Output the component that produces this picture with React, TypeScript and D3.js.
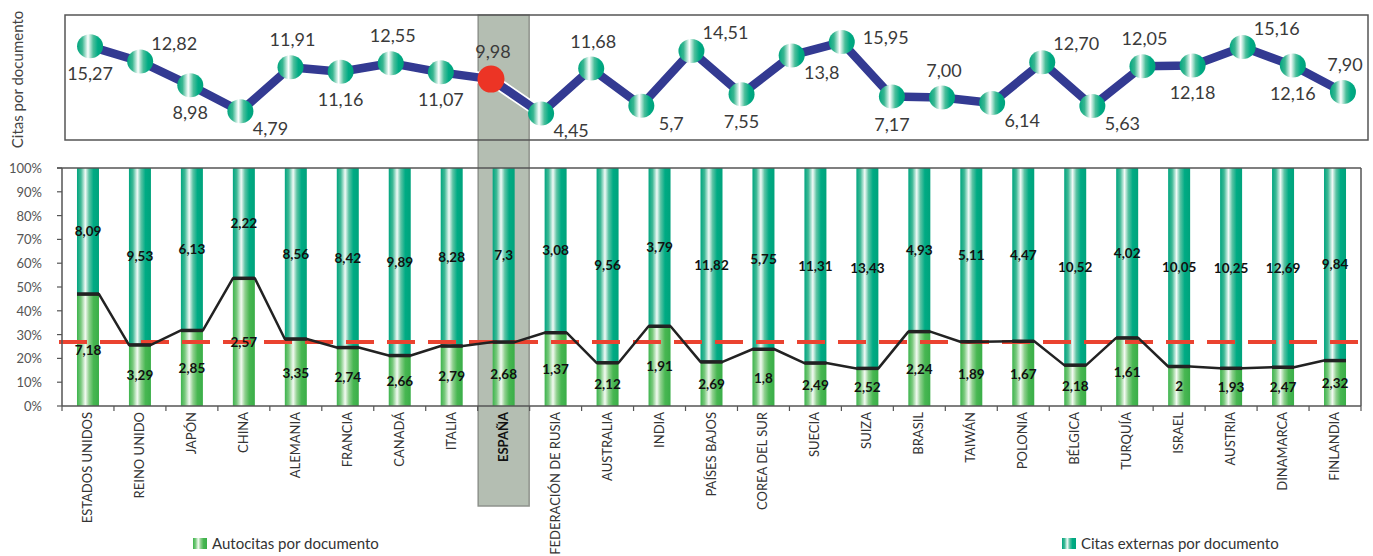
import React from "react";
import * as d3 from "d3";

// ---------- DATA ----------
const countries = [
  "ESTADOS UNIDOS", "REINO UNIDO", "JAPÓN", "CHINA", "ALEMANIA", "FRANCIA", "CANADÁ", "ITALIA",
  "ESPAÑA", "FEDERACIÓN DE RUSIA", "AUSTRALIA", "INDIA", "PAÍSES BAJOS", "COREA DEL SUR", "SUECIA",
  "SUIZA", "BRASIL", "TAIWÁN", "POLONIA", "BÉLGICA", "TURQUÍA", "ISRAEL", "AUSTRIA", "DINAMARCA", "FINLANDIA",
];
const autocitas = [
  "7,18", "3,29", "2,85", "2,57", "3,35", "2,74", "2,66", "2,79", "2,68", "1,37", "2,12", "1,91", "2,69",
  "1,8", "2,49", "2,52", "2,24", "1,89", "1,67", "2,18", "1,61", "2", "1,93", "2,47", "2,32",
];
const citasExternas = [
  "8,09", "9,53", "6,13", "2,22", "8,56", "8,42", "9,89", "8,28", "7,3", "3,08", "9,56", "3,79", "11,82",
  "5,75", "11,31", "13,43", "4,93", "5,11", "4,47", "10,52", "4,02", "10,05", "10,25", "12,69", "9,84",
];
const citasPorDocumento = [
  "15,27", "12,82", "8,98", "4,79", "11,91", "11,16", "12,55", "11,07", "9,98", "4,45", "11,68", "5,7",
  "14,51", "7,55", "13,8", "15,95", "7,17", "7,00", "6,14", "12,70", "5,63", "12,05", "12,18", "15,16",
  "12,16", "7,90",
];
// label placement (compass side of the point)
const labelSide = [
  "S", "NE", "S", "SE", "N", "S", "N", "S", "N", "SE", "N", "SE", "NE", "S", "SE", "E", "S", "N", "SE",
  "NE", "SE", "N", "S", "NE", "S", "N",
];
const highlighted = "ESPAÑA";
const yTicks = [0, 0.1, 0.2, 0.3, 0.4, 0.5, 0.6, 0.7, 0.8, 0.9, 1];
const legendLabels = ["Autocitas por documento", "Citas externas por documento"];
const topAxisTitle = "Citas por documento";

const num = (s: string) => parseFloat(s.replace(",", "."));

const FONT = "Lato, 'Open Sans', sans-serif";

export default function App() {
  const W = 1373, H = 556;
  // top panel
  const top = { x0: 65, x1: 1368, y0: 15, y1: 140 };
  const xTop = d3.scaleBand<number>().domain(d3.range(citasPorDocumento.length)).range([top.x0, top.x1]);
  const yTop = d3.scaleLinear().domain([0, 20]).range([141, 17]);
  const topVals = citasPorDocumento.map(num);
  const topPts = topVals.map((v, i) => [xTop(i)! + xTop.bandwidth() / 2, yTop(v)] as [number, number]);
  const lineGen = d3.line();

  // bottom panel
  const bot = { x0: 62, x1: 1361, y0: 168, y1: 406 };
  const xBot = d3.scaleBand<string>().domain(countries).range([bot.x0, bot.x1]);
  const yBot = d3.scaleLinear().domain([0, 1]).range([bot.y1, bot.y0]);
  const barW = 22;
  const rows = countries.map((c, i) => {
    const a = num(autocitas[i]);
    const e = num(citasExternas[i]);
    const share = a / (a + e);
    const cx = xBot(c)! + xBot.bandwidth() / 2;
    return { c, a, e, share, cx, aLabel: autocitas[i], eLabel: citasExternas[i] };
  });
  const spain = rows.find((r) => r.c === highlighted)!;
  const spainX0 = xBot(highlighted)!;

  // share line path (horizontal at each bar top + connectors)
  const sharePts: [number, number][] = [];
  rows.forEach((r) => {
    sharePts.push([r.cx - barW / 2, yBot(r.share)]);
    sharePts.push([r.cx + barW / 2, yBot(r.share)]);
  });

  const offs: Record<string, [number, number]> = {
    N: [2, -28], S: [0, 27], NE: [34, -19], SE: [30, 17], E: [44, -5],
  };

  return (
    <svg width={W} height={H} style={{ display: "block", position: "absolute", left: 0, top: 0 }}>
      <defs>
        <linearGradient id="gTeal" x1="0" x2="1" y1="0" y2="0">
          <stop offset="0" stopColor="#00a57f" />
          <stop offset="0.18" stopColor="#3fb996" />
          <stop offset="0.38" stopColor="#f2faf7" />
          <stop offset="0.55" stopColor="#5cc3a4" />
          <stop offset="0.75" stopColor="#00ab84" />
          <stop offset="1" stopColor="#00a37c" />
        </linearGradient>
        <linearGradient id="gGreen" x1="0" x2="1" y1="0" y2="0">
          <stop offset="0" stopColor="#3cb44c" />
          <stop offset="0.18" stopColor="#79c97d" />
          <stop offset="0.38" stopColor="#f3faf2" />
          <stop offset="0.55" stopColor="#8fd08e" />
          <stop offset="0.75" stopColor="#48b752" />
          <stop offset="1" stopColor="#3aae48" />
        </linearGradient>
        <linearGradient id="gMarker" x1="0" x2="1" y1="0" y2="0">
          <stop offset="0" stopColor="#00a57f" />
          <stop offset="0.2" stopColor="#39b791" />
          <stop offset="0.42" stopColor="#ffffff" />
          <stop offset="0.62" stopColor="#4cbf9b" />
          <stop offset="0.8" stopColor="#00ab84" />
          <stop offset="1" stopColor="#00a27b" />
        </linearGradient>
      </defs>
      <rect x={0} y={0} width={W} height={H} fill="#ffffff" />

      {/* highlighted column */}
      <rect x={spainX0 + 0.5} y={15} width={xBot.bandwidth() - 1} height={506 - 15}
        fill="#b4beb2" stroke="#8e928c" strokeWidth={1.5} />

      {/* ---------- TOP PANEL ---------- */}
      <rect x={top.x0} y={top.y0} width={top.x1 - top.x0} height={top.y1 - top.y0}
        fill="none" stroke="#555" strokeWidth={1.5} />
      <text transform={`translate(23,${(top.y0 + top.y1) / 2 + 2}) rotate(-90)`} textAnchor="middle"
        fontFamily={FONT} fontSize={15} fill="#444">{topAxisTitle}</text>
      <path d={lineGen(topPts)!} fill="none" stroke="#ffffff" strokeWidth={12} strokeLinejoin="round" />
      <path d={lineGen(topPts)!} fill="none" stroke="#333a92" strokeWidth={8.5} strokeLinejoin="round" />
      {topPts.map(([x, y], i) =>
        i === 8 ? (
          <circle key={i} cx={x} cy={y} r={13.5} fill="#ec3425" />
        ) : (
          <ellipse key={i} cx={x} cy={y} rx={13} ry={12} fill="url(#gMarker)" />
        )
      )}
      {topPts.map(([x, y], i) => {
        const [dx, dy] = offs[labelSide[i]];
        return (
          <text key={i} x={x + dx} y={y + dy} textAnchor="middle" dominantBaseline="central"
            fontFamily={FONT} fontSize={18} fill="#3a3a3a">{citasPorDocumento[i]}</text>
        );
      })}

      {/* ---------- BOTTOM PANEL ---------- */}
      {rows.map((r) => (
        <g key={r.c}>
          <rect x={r.cx - barW / 2} y={yBot(1)} width={barW} height={yBot(r.share) - yBot(1)} fill="url(#gTeal)" />
          <rect x={r.cx - barW / 2} y={yBot(r.share)} width={barW} height={yBot(0) - yBot(r.share)} fill="url(#gGreen)" />
        </g>
      ))}
      {/* reference line at Spain's share */}
      <line x1={bot.x0 - 3} x2={bot.x1} y1={yBot(spain.share)} y2={yBot(spain.share)}
        stroke="#ea4330" strokeWidth={4} strokeDasharray="28 13" />
      {/* share line */}
      <path d={lineGen(sharePts)!} fill="none" stroke="#222" strokeWidth={2.5} strokeLinejoin="round" />
      {rows.map((r) => (
        <line key={r.c} x1={r.cx - barW / 2} x2={r.cx + barW / 2} y1={yBot(r.share)} y2={yBot(r.share)}
          stroke="#222" strokeWidth={3.5} />
      ))}
      {/* bar labels */}
      {rows.map((r) => (
        <g key={r.c} fontFamily={FONT} fontWeight={700} fontSize={13.5} fill="#111" textAnchor="middle">
          <text x={r.cx} y={yBot((1 + r.share) / 2)} dominantBaseline="central">{r.eLabel}</text>
          <text x={r.cx} y={yBot(r.share / 2)} dominantBaseline="central">{r.aLabel}</text>
        </g>
      ))}
      {/* frame */}
      <line x1={bot.x0 - 5} x2={bot.x1} y1={bot.y0} y2={bot.y0} stroke="#555" strokeWidth={1.5} />
      <line x1={bot.x1} x2={bot.x1} y1={bot.y0} y2={bot.y1} stroke="#555" strokeWidth={1.5} />
      <line x1={bot.x0} x2={bot.x0} y1={bot.y0} y2={bot.y1} stroke="#555" strokeWidth={1.5} />
      <line x1={bot.x0} x2={bot.x1} y1={bot.y1} y2={bot.y1} stroke="#555" strokeWidth={1.5} />
      {/* y ticks */}
      {yTicks.map((t) => (
        <g key={t}>
          <line x1={bot.x0 - 5} x2={bot.x0} y1={yBot(t)} y2={yBot(t)} stroke="#555" strokeWidth={1.2} />
          <text x={bot.x0 - 20} y={yBot(t)} textAnchor="end" dominantBaseline="central"
            fontFamily={FONT} fontSize={13} fill="#555">{d3.format(".0%")(t)}</text>
        </g>
      ))}
      {/* x ticks */}
      {countries.map((c) => (
        <line key={c} x1={xBot(c)!} x2={xBot(c)!} y1={bot.y1} y2={bot.y1 + 5} stroke="#555" strokeWidth={1.2} />
      ))}
      <line x1={bot.x1} x2={bot.x1} y1={bot.y1} y2={bot.y1 + 5} stroke="#555" strokeWidth={1.2} />
      {/* x labels */}
      {rows.map((r) => (
        <text key={r.c} transform={`translate(${r.cx + 4},412) rotate(-90)`} textAnchor="end"
          fontFamily={FONT} fontSize={13} fontWeight={r.c === highlighted ? 700 : 400}
          fill={r.c === highlighted ? "#111" : "#333"}>{r.c}</text>
      ))}

      {/* legend */}
      <rect x={193} y={538} width={14} height={11} fill="url(#gGreen)" />
      <text x={212} y={549} fontFamily={FONT} fontSize={15} fill="#333">{legendLabels[0]}</text>
      <rect x={1062} y={538} width={14} height={11} fill="url(#gTeal)" />
      <text x={1081} y={549} fontFamily={FONT} fontSize={15} fill="#333">{legendLabels[1]}</text>
    </svg>
  );
}
